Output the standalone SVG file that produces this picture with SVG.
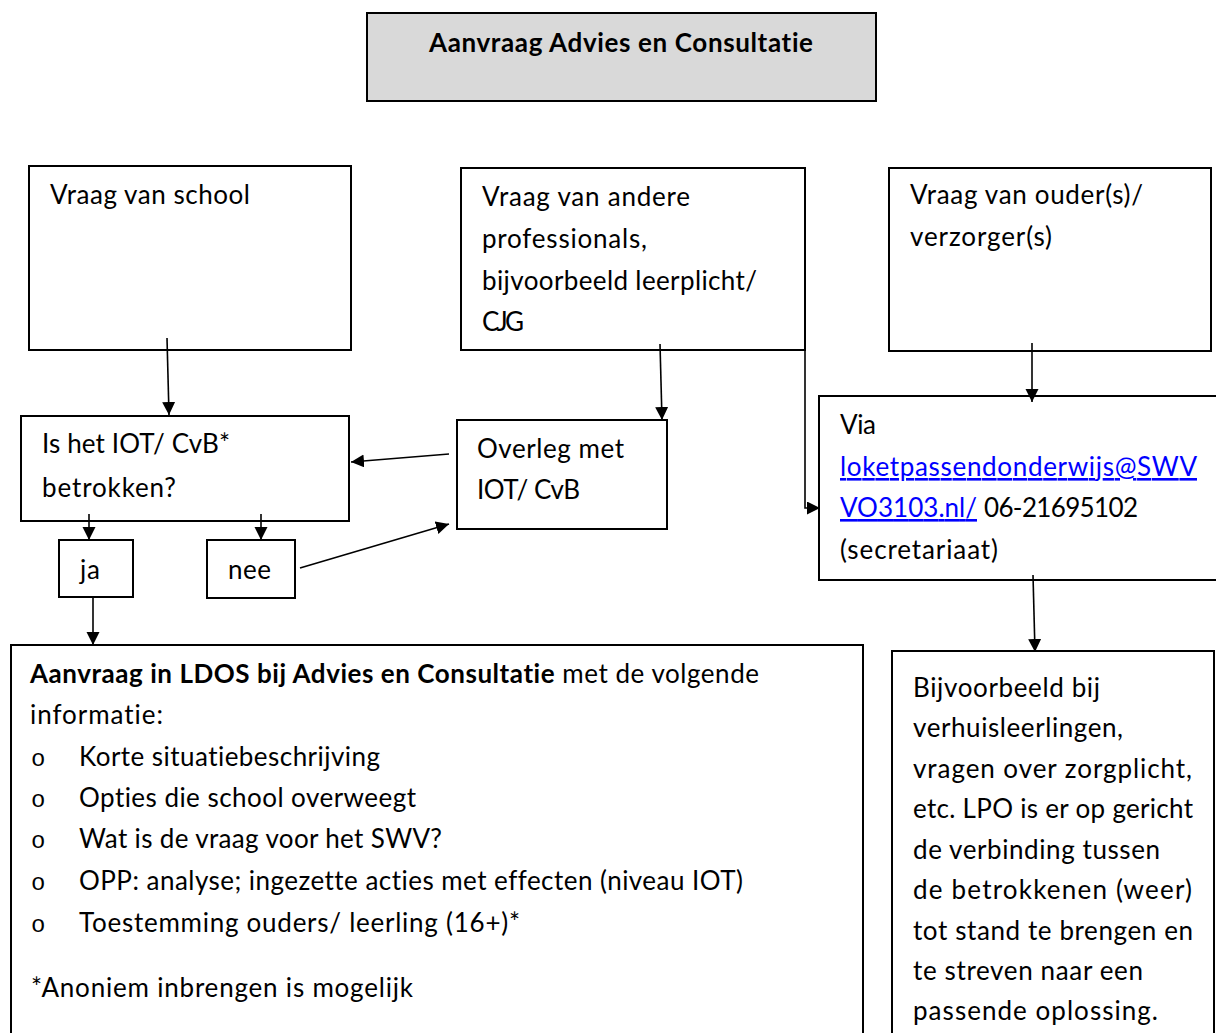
<svg xmlns="http://www.w3.org/2000/svg" width="1216" height="1033" viewBox="0 0 1216 1033">
<style>
.box{fill:#fff;stroke:#000;stroke-width:2}
.t{font-family:Lato,"Liberation Sans",sans-serif;font-size:26px;fill:#000;font-variant-ligatures:none;font-feature-settings:"liga" 0,"dlig" 0}
.b{font-weight:bold}
.lk{fill:#0000ff;text-decoration:underline}
.o{font-family:"Liberation Mono",monospace;font-size:24px;fill:#000}
.c{fill:none;stroke:#000;stroke-width:1.6}
</style>
<defs>
<marker id="ah" markerUnits="userSpaceOnUse" markerWidth="14" markerHeight="14" refX="13" refY="6.5" orient="auto">
<path d="M0,0 L13,6.5 L0,13 z" fill="#000"/>
</marker>
</defs>
<rect width="1216" height="1033" fill="#fff"/>

<g id="title">
<rect x="367" y="13" width="509" height="88" fill="#d9d9d9" stroke="#000" stroke-width="2"/>
<text class="t b" x="429" y="52" textLength="384">Aanvraag Advies en Consultatie</text>
</g>

<g id="school">
<rect class="box" x="29" y="166" width="322" height="184"/>
<text class="t" x="50" y="204" textLength="200">Vraag van school</text>
</g>

<g id="professionals">
<rect class="box" x="461" y="168" width="344" height="182"/>
<text class="t" x="482" y="206" textLength="208">Vraag van andere</text>
<text class="t" x="482" y="248" textLength="165">professionals,</text>
<text class="t" x="482" y="290" textLength="275">bijvoorbeeld leerplicht/</text>
<text class="t" x="482" y="331" textLength="42">CJG</text>
</g>

<g id="ouders">
<rect class="box" x="889" y="168" width="322" height="183"/>
<text class="t" x="910" y="204" textLength="233">Vraag van ouder(s)/</text>
<text class="t" x="910" y="246" textLength="142">verzorger(s)</text>
</g>

<g id="betrokken">
<rect class="box" x="21" y="416" width="328" height="105"/>
<text class="t" x="42" y="453" textLength="188">Is het IOT/ CvB*</text>
<text class="t" x="42" y="497" textLength="134">betrokken?</text>
</g>

<g id="overleg">
<rect class="box" x="457" y="420" width="210" height="109"/>
<text class="t" x="477" y="458" textLength="147">Overleg met</text>
<text class="t" x="477" y="499" textLength="103">IOT/ CvB</text>
</g>

<g id="via">
<rect class="box" x="819" y="396" width="402" height="184"/>
<text class="t" x="840" y="434" textLength="36">Via</text>
<text class="t lk" x="840" y="476" textLength="357">loketpassendonderwijs@SWV</text>
<text class="t" x="840" y="517"><tspan class="lk" textLength="137">VO3103.nl/</tspan><tspan x="984" textLength="154">06-21695102</tspan></text>
<text class="t" x="840" y="559" textLength="158">(secretariaat)</text>
</g>

<g id="ja">
<rect class="box" x="59" y="540" width="74" height="57"/>
<text class="t" x="80" y="579" textLength="20">ja</text>
</g>

<g id="nee">
<rect class="box" x="207" y="540" width="88" height="58"/>
<text class="t" x="228" y="579" textLength="43">nee</text>
</g>

<g id="aanvraag">
<rect class="box" x="11" y="645" width="852" height="400"/>
<text class="t" x="30" y="683" textLength="729"><tspan class="b">Aanvraag in LDOS bij Advies en Consultatie</tspan> met de volgende</text>
<text class="t" x="30" y="724" textLength="133">informatie:</text>
<text class="o" x="31" y="766">o</text>
<text class="t" x="79" y="766" textLength="301">Korte situatiebeschrijving</text>
<text class="o" x="31" y="807">o</text>
<text class="t" x="79" y="807" textLength="337">Opties die school overweegt</text>
<text class="o" x="31" y="848">o</text>
<text class="t" x="79" y="848" textLength="363">Wat is de vraag voor het SWV?</text>
<text class="o" x="31" y="890">o</text>
<text class="t" x="79" y="890" textLength="664">OPP: analyse; ingezette acties met effecten (niveau IOT)</text>
<text class="o" x="31" y="932">o</text>
<text class="t" x="79" y="932" textLength="441">Toestemming ouders/ leerling (16+)*</text>
<text class="t" x="31" y="997" textLength="382">*Anoniem inbrengen is mogelijk</text>
</g>

<g id="voorbeeld">
<rect class="box" x="892" y="651" width="322" height="400"/>
<text class="t" x="913" y="697" textLength="187">Bijvoorbeeld bij</text>
<text class="t" x="913" y="737" textLength="210">verhuisleerlingen,</text>
<text class="t" x="913" y="778" textLength="279">vragen over zorgplicht,</text>
<text class="t" x="913" y="818" textLength="280">etc. LPO is er op gericht</text>
<text class="t" x="913" y="859" textLength="247">de verbinding tussen</text>
<text class="t" x="913" y="899" textLength="279">de betrokkenen (weer)</text>
<text class="t" x="913" y="940" textLength="280">tot stand te brengen en</text>
<text class="t" x="913" y="980" textLength="230">te streven naar een</text>
<text class="t" x="913" y="1020" textLength="245">passende oplossing.</text>
</g>

<g id="connectors">
<line class="c" x1="167" y1="338" x2="169" y2="415" marker-end="url(#ah)"/>
<line class="c" x1="660" y1="344" x2="662" y2="420" marker-end="url(#ah)"/>
<line class="c" x1="449" y1="454" x2="351" y2="462" marker-end="url(#ah)"/>
<line class="c" x1="300" y1="568" x2="449" y2="524" marker-end="url(#ah)"/>
<line class="c" x1="89" y1="514" x2="89" y2="540" marker-end="url(#ah)"/>
<line class="c" x1="261" y1="514" x2="261" y2="540" marker-end="url(#ah)"/>
<line class="c" x1="93" y1="597" x2="93" y2="645" marker-end="url(#ah)"/>
<line class="c" x1="1032" y1="343" x2="1032" y2="402" marker-end="url(#ah)"/>
<line class="c" x1="1033" y1="575" x2="1035" y2="652" marker-end="url(#ah)"/>
<polyline class="c" points="788,350 805,350 805,508 820,508" marker-end="url(#ah)"/>
</g>
</svg>
